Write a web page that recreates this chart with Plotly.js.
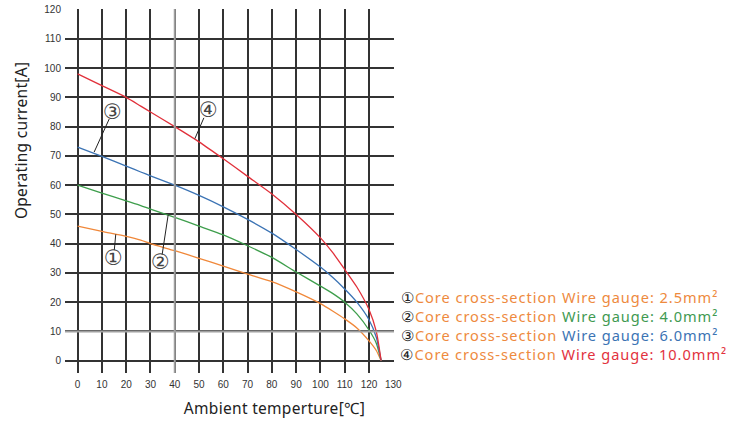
<!DOCTYPE html>
<html>
<head>
<meta charset="utf-8">
<script src="https://cdn.plot.ly/plotly-3.0.1.min.js"></script>
<style>
html,body{margin:0;padding:0;background:#fff;}
#chart{width:745px;height:421px;}
g.annotation[data-index="4"] text, g.annotation[data-index="5"] text,
g.annotation[data-index="6"] text, g.annotation[data-index="7"] text{letter-spacing:0.95px;}
g.annotation[data-index="8"] text, g.annotation[data-index="9"] text{letter-spacing:0.3px;}
</style>
</head>
<body>
<div id="chart"></div>
<script>
// Ambient temperature (°C) sample points
const temps = [0, 10, 20, 26, 30, 40, 50, 60, 70, 80, 90, 100, 105, 110, 115, 120, 123, 125];
// Operating current (A) per wire gauge
const current25 = [46, 44.2, 42.5, 41.2, 40, 37.6, 35, 32.3, 29.6, 27, 23.5, 19.5, 17, 14.3, 11.2, 6.8, 3.5, 0];
const current40 = [60, 57.3, 54.6, 53, 51.8, 49, 46, 43, 39.3, 35.3, 30.3, 25.5, 23, 20, 16, 10.5, 6, 0];
const current60 = [73, 69.8, 66.5, 64.5, 63.2, 60, 56.5, 52.6, 48.3, 43.6, 38, 32, 28.5, 24.5, 20, 14, 8, 0];
const current100 = [98, 94, 90, 87, 85, 80, 74.8, 69, 63, 57, 50, 42, 37, 31.2, 25.2, 17.5, 10, 0];

const seriesNames = ["①", "②", "③", "④"];
const gauges = ["2.5mm²", "4.0mm²", "6.0mm²", "10.0mm²"];
const lineColors = ["#f0883a", "#3e9e4c", "#3b73b4", "#e1303a"];
const textColors = ["#ee8a3e", "#3f9a52", "#3c74b4", "#e2323e"];
const allCurrents = [current25, current40, current60, current100];

const xTicks = [0, 10, 20, 30, 40, 50, 60, 70, 80, 90, 100, 110, 120, 130];
const yTicks = [0, 10, 20, 30, 40, 50, 60, 70, 80, 90, 100, 110, 120];

// callout labels: [label x, label y, leader start x, y, leader end x, y]
const callouts = [
  [14.9, 35.1, 15.1, 37.8, 15.7, 43.2],
  [34.0, 33.9, 34.8, 36.2, 37.3, 49.9],
  [14.4, 85.0, 13.0, 82.6, 6.8, 71.3],
  [53.7, 85.6, 52.0, 83.0, 48.3, 75.9]
];

const traces = allCurrents.map((ys, i) => ({
  x: temps, y: ys, type: 'scatter', mode: 'lines',
  line: {color: lineColors[i], width: 1.3, shape: 'spline', smoothing: 0.6},
  name: seriesNames[i], hoverinfo: 'skip'
}));

const shapes = [
  {type: 'line', xref: 'x', yref: 'paper', x0: 40, x1: 40, y0: 0, y1: 1, line: {color: '#a0a0a0', width: 2}, layer: 'above'},
  {type: 'line', xref: 'paper', yref: 'y', x0: 0, x1: 1, y0: 10, y1: 10, line: {color: '#a0a0a0', width: 2}, layer: 'above'}
];
callouts.forEach(c => {
  shapes.push({type: 'line', xref: 'x', yref: 'y', x0: c[2], y0: c[3], x1: c[4], y1: c[5], line: {color: '#222', width: 1}});
});

const annotations = [];
callouts.forEach((c, i) => {
  annotations.push({xref: 'x', yref: 'y', x: c[0], y: c[1], text: seriesNames[i], showarrow: false,
    font: {family: 'DejaVu Sans', size: 21, color: '#444'}});
});
const legendPx = [297, 316, 335, 354];
gauges.forEach((g, i) => {
  annotations.push({xref: 'paper', yref: 'paper', x: (416.5 - 65) / 329, y: (372.7 - legendPx[i]) / 363.4, xanchor: 'left', yanchor: 'middle', showarrow: false,
    text: '<span style="color:#222">' + seriesNames[i] + '</span><span style="color:' + textColors[0] + '">Core cross-section </span><span style="color:' + textColors[i] + '">Wire gauge: ' + g + '</span>',
    font: {family: 'Noto Sans', size: 14.6, color: '#222'}});
});
annotations.push({xref: 'paper', yref: 'paper', x: (21.7 - 65) / 329, xanchor: 'center', y: (372.7 - 140.5) / 363.4, yanchor: 'middle',
  text: 'Operating current[A]', textangle: -90, showarrow: false, font: {family: 'Noto Sans', size: 15.5, color: '#222'}});
annotations.push({xref: 'paper', yref: 'paper', x: (274 - 65) / 329, xanchor: 'center', y: -(408 - 372.7) / 363.4, yanchor: 'middle',
  text: 'Ambient temperture[℃]', showarrow: false, font: {family: 'Noto Sans', size: 15.5, color: '#222'}});

const layout = {
  width: 745, height: 421,
  margin: {l: 65, r: 351, t: 9, b: 48},
  paper_bgcolor: '#fff', plot_bgcolor: '#fff',
  showlegend: false,
  xaxis: {range: [-5.2, 130.3], tickvals: xTicks, ticktext: xTicks.map(String), showgrid: true, gridcolor: '#333', gridwidth: 2,
    zeroline: false, showline: false, ticks: '', ticklabelstandoff: 4, tickfont: {family: 'Liberation Sans', size: 10, color: '#333'}},
  yaxis: {range: [-4.2, 120.2], tickvals: yTicks, ticktext: yTicks.map(String), showgrid: true, gridcolor: '#333', gridwidth: 2,
    zeroline: false, showline: false, ticks: '', ticklabelstandoff: 3, tickfont: {family: 'Liberation Sans', size: 10, color: '#333'}},
  shapes: shapes,
  annotations: annotations
};

Plotly.newPlot('chart', traces, layout, {displayModeBar: false, staticPlot: true});
</script>
</body>
</html>
